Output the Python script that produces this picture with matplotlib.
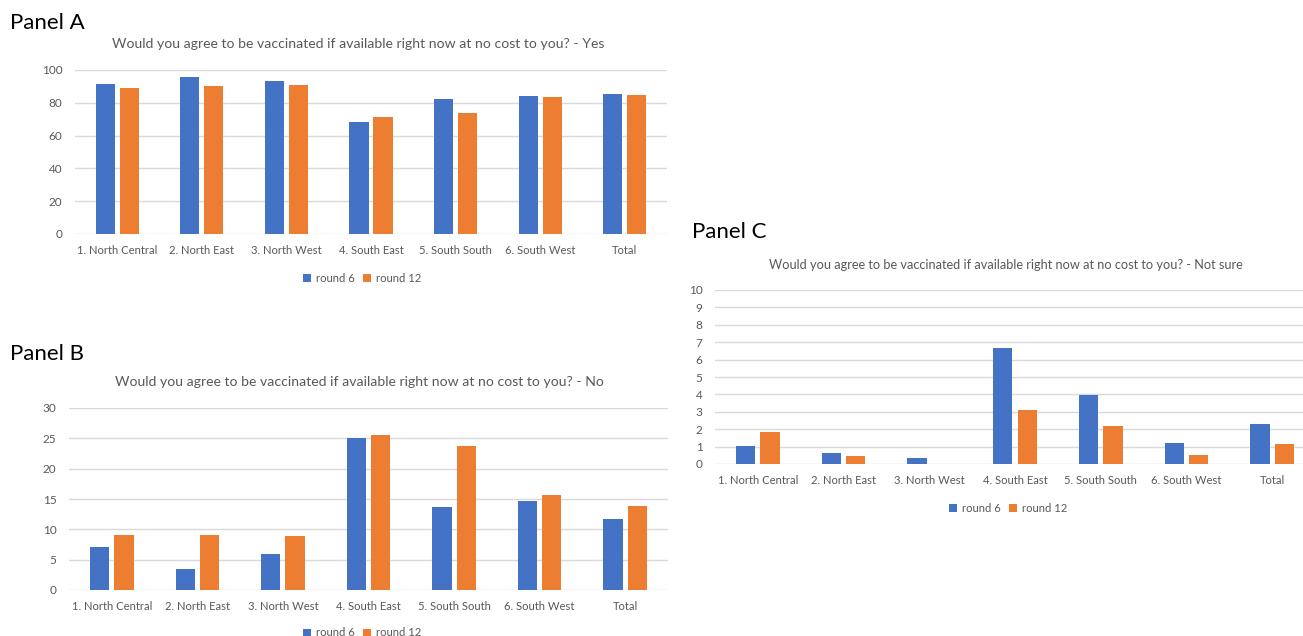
import numpy as np
import matplotlib
matplotlib.use("Agg")
import matplotlib.pyplot as plt
from matplotlib.patches import Patch

# ---- data -------------------------------------------------------------
regions = ["1. North Central", "2. North East", "3. North West", "4. South East",
           "5. South South", "6. South West", "Total"]
series_names = ["round 6", "round 12"]

yes_round6 = [91.4, 95.7, 93.5, 68.0, 82.3, 83.9, 85.5]
yes_round12 = [89.0, 90.4, 90.8, 71.1, 73.7, 83.7, 84.7]

no_round6 = [7.1, 3.4, 6.0, 25.1, 13.7, 14.6, 11.7]
no_round12 = [9.1, 9.0, 8.9, 25.6, 23.8, 15.6, 13.9]

notsure_round6 = [1.03, 0.63, 0.36, 6.69, 3.98, 1.19, 2.28]
notsure_round12 = [1.84, 0.46, 0.0, 3.12, 2.16, 0.54, 1.13]

question = "Would you agree to be vaccinated if available right now at no cost to you?"
answers = ["Yes", "No", "Not sure"]
panel_labels = ["Panel A", "Panel B", "Panel C"]

yes_ticks = [0, 20, 40, 60, 80, 100]
no_ticks = [0, 5, 10, 15, 20, 25, 30]
notsure_ticks = list(range(0, 11))

# ---- style ------------------------------------------------------------
W, H = 1303, 636
BLUE = "#4472C4"
ORANGE = "#ED7D31"
GRID = "#D9D9D9"
TEXT = "#595959"
FONT = ["Lato", "DejaVu Sans"]
plt.rcParams["font.family"] = FONT

fig = plt.figure(figsize=(W / 100, H / 100), dpi=100)


def box(left, top, right, bottom):
    """Pixel box -> figure-fraction rectangle."""
    return [left / W, 1 - bottom / H, (right - left) / W, (bottom - top) / H]


def fx(x):
    return x / W


def fy(y):
    return 1 - y / H


def draw_panel(rect, r6, r12, ticks, title, title_xy, title_size,
               label, label_xy, legend_xy):
    ax = fig.add_axes(rect)
    x = np.arange(len(regions))
    width = 0.225
    off = 0.142
    ax.bar(x - off, r6, width, color=BLUE, zorder=3)
    ax.bar(x + off, r12, width, color=ORANGE, zorder=3)
    ax.set_xlim(-0.5, len(regions) - 0.5)
    ax.set_ylim(ticks[0], ticks[-1])
    ax.set_yticks(ticks)
    ax.set_xticks(x)
    ax.set_xticklabels(regions)
    ax.yaxis.grid(True, color=GRID, linewidth=1.0, zorder=0)
    ax.set_axisbelow(True)
    for s in ax.spines.values():
        s.set_visible(False)
    ax.tick_params(axis="both", length=0, labelcolor=TEXT)
    ax.tick_params(axis="y", pad=9, labelsize=8.5)
    ax.tick_params(axis="x", pad=8, labelsize=8.1)
    ax.set_facecolor("none")

    fig.text(fx(title_xy[0]), fy(title_xy[1]), title, ha="center", va="center",
             fontsize=title_size, color=TEXT)
    fig.text(fx(label_xy[0]), fy(label_xy[1]), label, ha="left", va="center",
             fontsize=16, color="black")
    handles = [Patch(facecolor=BLUE), Patch(facecolor=ORANGE)]
    fig.legend(handles, series_names, loc="center",
               bbox_to_anchor=(fx(legend_xy[0]), fy(legend_xy[1])),
               ncol=2, frameon=False, fontsize=8.1, labelcolor=TEXT,
               handlelength=0.7, handleheight=0.7, handletextpad=0.4,
               columnspacing=0.8)
    return ax


draw_panel(box(75, 70, 667, 234), yes_round6, yes_round12, yes_ticks,
           f"{question} - {answers[0]}", (358, 44), 10.05,
           panel_labels[0], (10, 23), (362, 278))
draw_panel(box(69, 408, 668, 590), no_round6, no_round12, no_ticks,
           f"{question} - {answers[1]}", (359, 382), 10.05,
           panel_labels[1], (10, 354), (362, 633))
draw_panel(box(715, 290, 1315, 464), notsure_round6, notsure_round12, notsure_ticks,
           f"{question} - {answers[2]}", (1006, 265), 9.15,
           panel_labels[2], (692, 232), (1008, 508))

fig.savefig("out.png", dpi=100, facecolor="white")
